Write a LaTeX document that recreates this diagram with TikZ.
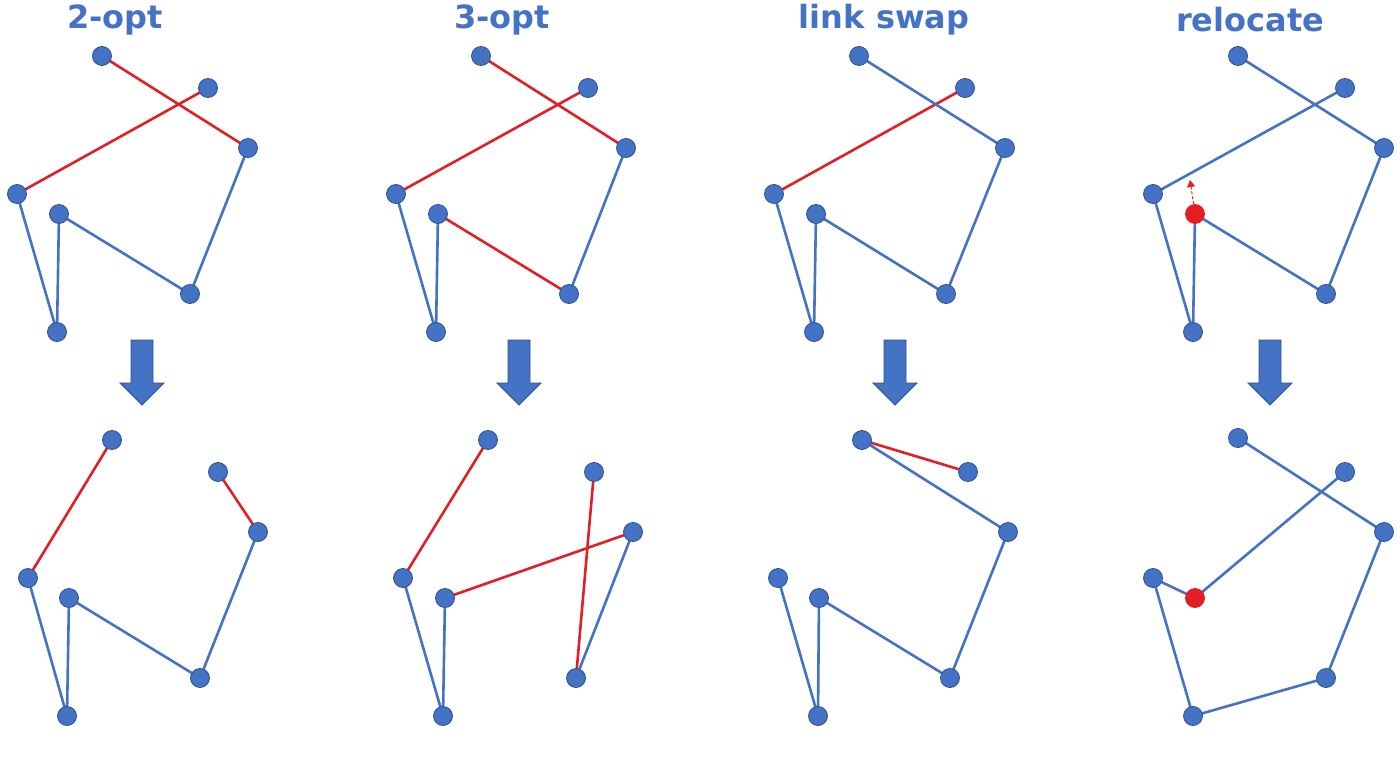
\documentclass[tikz,border=0pt]{standalone}
\usepackage{fontspec}
\setmainfont{DejaVu Sans}
\usetikzlibrary{arrows.meta}
\definecolor{nodeblue}{HTML}{4472C4}
\definecolor{nodeedge}{HTML}{2F528F}
\definecolor{edgered}{HTML}{E31E24}
\tikzset{
  pt/.style={circle,fill=nodeblue,draw=nodeedge,line width=0.8pt,minimum size=19pt,inner sep=0pt},
  rpt/.style={circle,fill=edgered,draw=edgered,line width=0.8pt,minimum size=19pt,inner sep=0pt},
  bl/.style={draw=nodeblue,line width=2.6pt},
  rd/.style={draw=edgered,line width=2.6pt},
  title/.style={text=nodeblue,font=\fontsize{32}{36}\selectfont\bfseries},
  bigarrow/.style={fill=nodeblue,draw=nodeedge,line width=0.8pt}
}
\newcommand{\bigdown}[1]{%
  \draw[bigarrow] (#1-11,340) -- (#1+11,340) -- (#1+11,383) -- (#1+22,383) -- (#1,405) -- (#1-22,383) -- (#1-11,383) -- cycle;}
\begin{document}
\begin{tikzpicture}[x=1pt,y=-1pt]
\useasboundingbox (0,0) rectangle (1400,770);
% titles
\node[title] (t1) at (115,20) {2-opt};
\node[title] (t2) at (502,20) {3-opt};
\node[title] (t3) at (884,20) {link swap};
\node[title] (t4) at (1250,20) {relocate};
% ---------- panel 1 top
\coordinate (p1A) at (102,56); \coordinate (p1B) at (208,88); \coordinate (p1C) at (248,148);
\coordinate (p1D) at (17,194); \coordinate (p1E) at (59,214); \coordinate (p1F) at (190,294); \coordinate (p1G) at (57,332);
\draw[rd] (p1A) -- (p1C); \draw[rd] (p1B) -- (p1D);
\draw[bl] (p1C) -- (p1F) -- (p1E) -- (p1G) -- (p1D);
\foreach \n in {A,B,C,D,E,F,G} \node[pt] (n1\n) at (p1\n) {};
% panel 1 bottom
\coordinate (q1A) at (112,440); \coordinate (q1B) at (218,472); \coordinate (q1C) at (258,532);
\coordinate (q1D) at (28,578); \coordinate (q1E) at (69,598); \coordinate (q1F) at (200,678); \coordinate (q1G) at (67,716);
\draw[rd] (q1A) -- (q1D); \draw[rd] (q1B) -- (q1C);
\draw[bl] (q1C) -- (q1F) -- (q1E) -- (q1G) -- (q1D);
\foreach \n in {A,B,C,D,E,F,G} \node[pt] (m1\n) at (q1\n) {};
% ---------- panel 2 top
\coordinate (p2A) at (481,56); \coordinate (p2B) at (588,88); \coordinate (p2C) at (626,148);
\coordinate (p2D) at (396,194); \coordinate (p2E) at (438,214); \coordinate (p2F) at (569,294); \coordinate (p2G) at (436,332);
\draw[rd] (p2A) -- (p2C); \draw[rd] (p2B) -- (p2D); \draw[rd] (p2E) -- (p2F);
\draw[bl] (p2C) -- (p2F); \draw[bl] (p2E) -- (p2G) -- (p2D);
\foreach \n in {A,B,C,D,E,F,G} \node[pt] (n2\n) at (p2\n) {};
% panel 2 bottom
\coordinate (q2A) at (488,440); \coordinate (q2B) at (594,472); \coordinate (q2C) at (633,532);
\coordinate (q2D) at (403,578); \coordinate (q2E) at (445,598); \coordinate (q2F) at (576,678); \coordinate (q2G) at (443,716);
\draw[rd] (q2A) -- (q2D); \draw[rd] (q2E) -- (q2C); \draw[rd] (q2B) -- (q2F);
\draw[bl] (q2C) -- (q2F); \draw[bl] (q2E) -- (q2G) -- (q2D);
\foreach \n in {A,B,C,D,E,F,G} \node[pt] (m2\n) at (q2\n) {};
% ---------- panel 3 top
\coordinate (p3A) at (859,56); \coordinate (p3B) at (965,88); \coordinate (p3C) at (1005,148);
\coordinate (p3D) at (774,194); \coordinate (p3E) at (816,214); \coordinate (p3F) at (946,294); \coordinate (p3G) at (814,332);
\draw[rd] (p3B) -- (p3D);
\draw[bl] (p3A) -- (p3C) -- (p3F) -- (p3E) -- (p3G) -- (p3D);
\foreach \n in {A,B,C,D,E,F,G} \node[pt] (n3\n) at (p3\n) {};
% panel 3 bottom
\coordinate (q3A) at (862,440); \coordinate (q3B) at (968,472); \coordinate (q3C) at (1008,532);
\coordinate (q3D) at (778,578); \coordinate (q3E) at (819,598); \coordinate (q3F) at (950,678); \coordinate (q3G) at (818,716);
\draw[rd] (q3A) -- (q3B);
\draw[bl] (q3A) -- (q3C) -- (q3F) -- (q3E) -- (q3G) -- (q3D);
\foreach \n in {A,B,C,D,E,F,G} \node[pt] (m3\n) at (q3\n) {};
% ---------- panel 4 top
\coordinate (p4A) at (1238,56); \coordinate (p4B) at (1345,88); \coordinate (p4C) at (1384,148);
\coordinate (p4D) at (1153,194); \coordinate (p4E) at (1195,214); \coordinate (p4F) at (1326,294); \coordinate (p4G) at (1193,332);
\draw[bl] (p4A) -- (p4C) -- (p4F) -- (p4E) -- (p4G) -- (p4D) -- (p4B);
\foreach \n in {A,B,C,D,F,G} \node[pt] (n4\n) at (p4\n) {};
\node[rpt] (n4E) at (p4E) {};
\coordinate (p4T) at (1190,180);
\draw[edgered,line width=1pt,dash pattern=on 3pt off 2pt,-{Triangle[length=7pt,width=8pt]}] (n4E) -- (p4T);
% panel 4 bottom
\coordinate (q4A) at (1238,438); \coordinate (q4B) at (1345,472); \coordinate (q4C) at (1384,532);
\coordinate (q4D) at (1153,578); \coordinate (q4E) at (1195,598); \coordinate (q4F) at (1326,678); \coordinate (q4G) at (1193,716);
\draw[bl] (q4A) -- (q4C) -- (q4F) -- (q4G) -- (q4D) -- (q4E) -- (q4B);
\foreach \n in {A,B,C,D,F,G} \node[pt] (m4\n) at (q4\n) {};
\node[rpt] (m4E) at (q4E) {};
% big arrows
\bigdown{142}
\bigdown{519}
\bigdown{895}
\bigdown{1270}
\end{tikzpicture}
\end{document}
